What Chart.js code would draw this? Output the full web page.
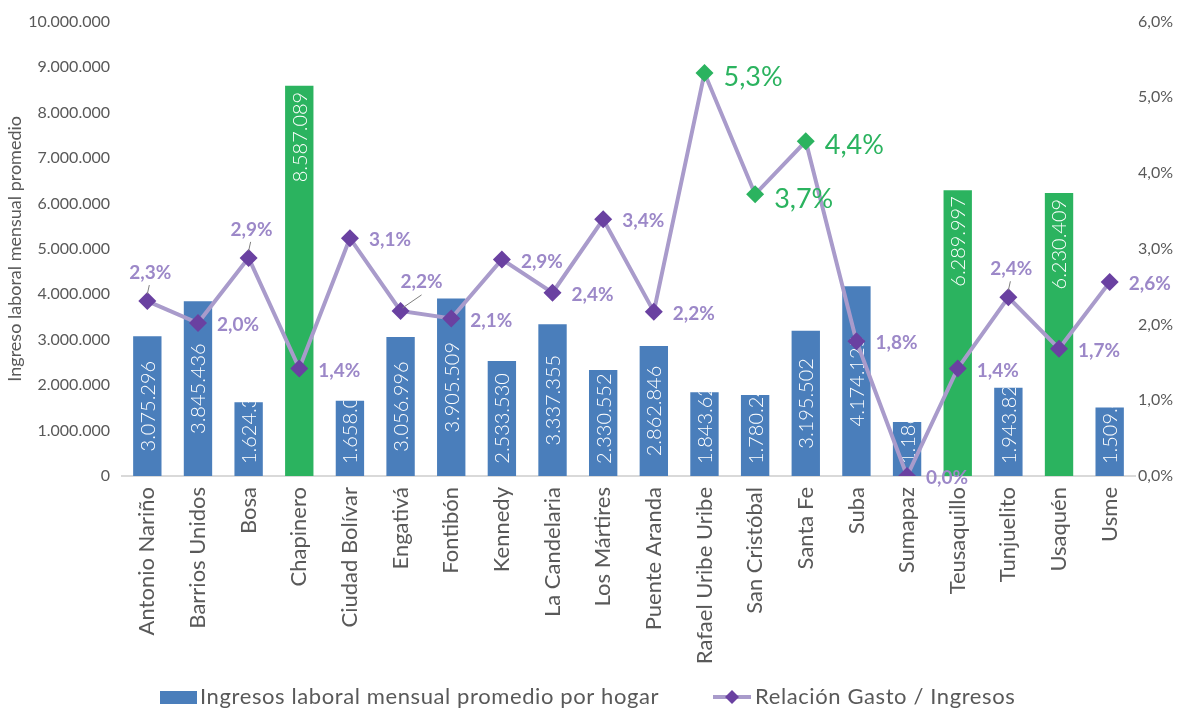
<!DOCTYPE html>
<html>
<head>
<meta charset="utf-8">
<script src="https://cdn.jsdelivr.net/npm/chart.js@4.4.1/dist/chart.umd.min.js"></script>
<style>
  html, body { margin: 0; padding: 0; background: #fff; }
  #wrap { width: 1177px; height: 711px; }
</style>
</head>
<body>
<div id="wrap"><canvas id="grafico" width="1177" height="711"></canvas></div>
<script>
// Datos por localidad (Bogotá)
const localidades = ['Antonio Nariño', 'Barrios Unidos', 'Bosa', 'Chapinero', 'Ciudad Bolívar', 'Engativá',
  'Fontibón', 'Kennedy', 'La Candelaria', 'Los Mártires', 'Puente Aranda', 'Rafael Uribe Uribe',
  'San Cristóbal', 'Santa Fe', 'Suba', 'Sumapaz', 'Teusaquillo', 'Tunjuelito', 'Usaquén', 'Usme'];

// Ingreso laboral mensual promedio por hogar (pesos)
const ingresos = [3075296, 3845436, 1624312, 8587089, 1658043, 3056996, 3905509, 2533530, 3337355, 2330552,
  2862846, 1843627, 1780245, 3195502, 4174125, 1186420, 6289997, 1943829, 6230409, 1509456];

// Relación gasto / ingresos (%)
const relacion = [2.31, 2.02, 2.88, 1.42, 3.14, 2.18, 2.08, 2.86, 2.42, 3.39,
  2.17, 5.32, 3.72, 4.42, 1.78, 0.0, 1.42, 2.36, 1.68, 2.56];

// Localidades resaltadas en verde
const barrasDestacadas = ['Chapinero', 'Teusaquillo', 'Usaquén'];
const puntosDestacados = ['Rafael Uribe Uribe', 'San Cristóbal', 'Santa Fe'];

// Ejes
const ticksIngreso = [0, 1000000, 2000000, 3000000, 4000000, 5000000, 6000000, 7000000, 8000000, 9000000, 10000000];
const ticksRelacion = [0, 1, 2, 3, 4, 5, 6];

// Dónde va cada etiqueta de la línea (solo estilo)
const ubicacionEtiqueta = ['arriba', 'der', 'arriba', 'der', 'der', 'arribader', 'der', 'der', 'der', 'der',
  'der', 'der', 'derabajo', 'der', 'der', 'der', 'der', 'arriba', 'der', 'der'];

const AZUL = '#4A7EBB';
const VERDE = '#2BB35F';
const LILA = '#A99BCB';
const MORADO = '#6A41A1';
const LILA_TXT = '#9C88C8';
const GRIS = '#595959';
const FUENTE = 'Lato, "Open Sans", sans-serif';

// 1234567 -> "1.234.567"
function miles(n) {
  return String(Math.round(n)).replace(/\B(?=(\d{3})+(?!\d))/g, '.');
}
// 2.3 -> "2,3%"
function pct(v) {
  return v.toFixed(1).replace('.', ',') + '%';
}

// Etiquetas blancas verticales dentro de las barras
const etiquetasBarras = {
  id: 'etiquetasBarras',
  afterDatasetDraw(chart, args) {
    if (args.index !== 1) return;
    const ctx = chart.ctx;
    args.meta.data.forEach((bar, i) => {
      const txt = miles(ingresos[i]);
      const top = bar.y, base = bar.base, w = bar.width;
      ctx.save();
      ctx.beginPath();
      ctx.rect(bar.x - w / 2, top, w, base - top);
      ctx.clip();
      ctx.font = '300 20px ' + FUENTE;
      const tw = ctx.measureText(txt).width;
      const h = base - top;
      let inicio;
      if (tw + 20 > h) {
        inicio = base - 12; // no cabe: se corta arriba
      } else if (barrasDestacadas.includes(localidades[i])) {
        inicio = top + 6 + tw;
      } else {
        inicio = (top + base) / 2 + tw / 2;
      }
      ctx.translate(bar.x + 1, inicio);
      ctx.rotate(-Math.PI / 2);
      ctx.fillStyle = '#fff';
      ctx.textAlign = 'left';
      ctx.textBaseline = 'middle';
      ctx.fillText(txt, 0, 0);
      ctx.restore();
    });
  }
};

// Etiquetas de porcentaje junto a cada punto
const etiquetasLinea = {
  id: 'etiquetasLinea',
  afterDatasetsDraw(chart) {
    const ctx = chart.ctx;
    const meta = chart.getDatasetMeta(0);
    meta.data.forEach((pt, i) => {
      const verde = puntosDestacados.includes(localidades[i]);
      const txt = pct(relacion[i]);
      ctx.save();
      ctx.font = verde ? '400 27px ' + FUENTE : '700 19px ' + FUENTE;
      ctx.fillStyle = verde ? VERDE : LILA_TXT;
      ctx.textBaseline = 'middle';
      const tw = ctx.measureText(txt).width;
      let x = pt.x + 19, y = pt.y + 2;
      const pos = ubicacionEtiqueta[i];
      if (pos === 'arriba') {
        x = pt.x - tw / 2 + 3;
        y = pt.y - 28;
        ctx.strokeStyle = '#7f7f7f';
        ctx.lineWidth = 1;
        ctx.beginPath();
        ctx.moveTo(pt.x + 2, pt.y - 16);
        ctx.lineTo(pt.x, pt.y - 7);
        ctx.stroke();
      } else if (pos === 'arribader') {
        x = pt.x;
        y = pt.y - 29;
        ctx.strokeStyle = '#7f7f7f';
        ctx.lineWidth = 1;
        ctx.beginPath();
        ctx.moveTo(pt.x + 21, pt.y - 16);
        ctx.lineTo(pt.x + 2, pt.y - 3);
        ctx.stroke();
      } else if (pos === 'derabajo') {
        x = pt.x + 19;
        y = pt.y + 3;
      }
      if (verde) y += 2;
      ctx.fillText(txt, x, y);
      ctx.restore();
    });
  }
};

// Leyenda dibujada a mano (barra + línea con rombo)
const leyenda = {
  id: 'leyenda',
  afterDraw(chart) {
    const ctx = chart.ctx;
    const y = 697;
    ctx.save();
    ctx.fillStyle = AZUL;
    ctx.fillRect(160, y - 6, 37, 13);
    ctx.font = '400 22px ' + FUENTE;
    ctx.fillStyle = GRIS;
    ctx.textBaseline = 'middle';
    ctx.letterSpacing = '0.6px';
    ctx.fillText('Ingresos laboral mensual promedio por hogar', 200, y);
    ctx.strokeStyle = LILA;
    ctx.lineWidth = 4;
    ctx.beginPath();
    ctx.moveTo(713, y);
    ctx.lineTo(751, y);
    ctx.stroke();
    ctx.fillStyle = MORADO;
    ctx.beginPath();
    ctx.moveTo(732, y - 7);
    ctx.lineTo(739, y);
    ctx.lineTo(732, y + 7);
    ctx.lineTo(725, y);
    ctx.closePath();
    ctx.fill();
    ctx.fillStyle = GRIS;
    ctx.fillText('Relación Gasto / Ingresos', 755, y);
    ctx.restore();
  }
};

const ctx = document.getElementById('grafico').getContext('2d');
new Chart(ctx, {
  data: {
    labels: localidades,
    datasets: [
      {
        type: 'line',
        label: 'Relación Gasto / Ingresos',
        data: relacion,
        yAxisID: 'y1',
        order: 0,
        borderColor: LILA,
        borderWidth: 4,
        tension: 0,
        pointStyle: 'rectRot',
        pointRadius: 9,
        pointHoverRadius: 9,
        pointBorderWidth: 0,
        pointBackgroundColor: localidades.map(l => puntosDestacados.includes(l) ? VERDE : MORADO),
        pointBorderColor: localidades.map(l => puntosDestacados.includes(l) ? VERDE : MORADO)
      },
      {
        type: 'bar',
        label: 'Ingresos laboral mensual promedio por hogar',
        data: ingresos,
        yAxisID: 'y',
        order: 1,
        backgroundColor: localidades.map(l => barrasDestacadas.includes(l) ? VERDE : AZUL),
        barPercentage: 0.56,
        categoryPercentage: 1
      }
    ]
  },
  options: {
    responsive: false,
    animation: false,
    devicePixelRatio: 1,
    layout: { padding: { top: 18, right: 0, bottom: 0, left: 0 } },
    plugins: {
      legend: { display: false },
      tooltip: { enabled: false }
    },
    scales: {
      x: {
        grid: { display: false, drawTicks: false },
        border: { color: '#D9D9D9', width: 2 },
        ticks: {
          color: GRIS,
          font: { family: FUENTE, size: 22 },
          minRotation: 90,
          maxRotation: 90,
          autoSkip: false,
          padding: 11
        },
        afterFit(s) { s.height = 235; }
      },
      y: {
        position: 'left',
        min: 0,
        max: 10000000,
        grid: { display: false, drawTicks: false },
        border: { display: false },
        afterBuildTicks(s) { s.ticks = ticksIngreso.map(v => ({ value: v })); },
        ticks: {
          color: GRIS,
          font: { family: FUENTE, size: 16 },
          padding: 12,
          callback: v => miles(v)
        },
        title: {
          display: true,
          text: 'Ingreso laboral mensual promedio',
          color: GRIS,
          font: { family: FUENTE, size: 18 },
          padding: { top: 4, bottom: 0 }
        },
        afterFit(s) { s.width = 122; }
      },
      y1: {
        position: 'right',
        min: 0,
        max: 6,
        grid: { display: false, drawTicks: false },
        border: { display: false },
        afterBuildTicks(s) { s.ticks = ticksRelacion.map(v => ({ value: v })); },
        ticks: {
          color: GRIS,
          font: { family: FUENTE, size: 16 },
          padding: 3,
          callback: v => pct(v)
        },
        afterFit(s) { s.width = 42; }
      }
    }
  },
  plugins: [etiquetasBarras, etiquetasLinea, leyenda]
});
</script>
</body>
</html>
